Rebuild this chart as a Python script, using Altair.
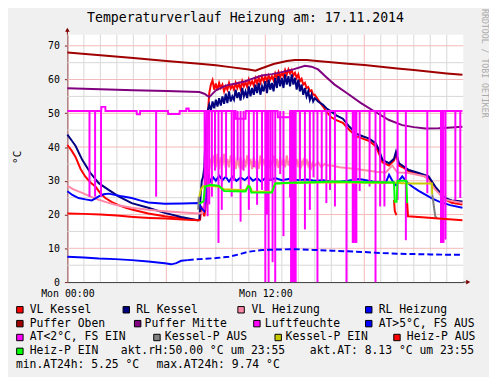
import altair as alt
import pandas as pd

# ---------------- data (hours since Mon 00:00, values in °C / %) ----------------
vl_kessel = [
    (0, 40.6), (0.25, 39.0), (0.5, 37.0), (0.8, 33.5), (1.08, 31.3), (1.4, 29.5), (1.7, 28.3),
    (2.0, 26.3), (2.3, 24.9), (2.7, 23.7), (3.1, 22.8), (3.5, 22.1), (3.9, 21.5), (4.9, 20.3),
    (5.9, 19.5), (6.9, 18.9), (7.9, 18.3), (8.05, 18.6), (8.12, 22.4), (8.2, 21.5), (8.3, 19.5),
    (8.38, 22.0), (8.45, 35.0), (8.52, 50.0),
    (8.6, 56.0), (8.7, 58.5), (8.8, 59.8), (8.9, 57.0), (9.0, 58.8), (9.1, 56.8), (9.2, 59.0),
    (9.3, 57.5), (9.4, 58.5), (9.5, 56.5), (9.6, 58.0), (9.7, 57.0), (9.8, 59.0), (9.9, 57.3),
    (10.0, 58.2), (10.1, 57.0), (10.2, 59.0), (10.3, 57.5), (10.4, 58.8), (10.5, 57.2), (10.6, 59.5),
    (10.7, 58.0), (10.8, 59.2), (10.9, 57.8), (11.0, 60.0), (11.1, 58.5), (11.2, 59.5), (11.3, 58.2),
    (11.4, 60.3), (11.5, 58.8), (11.6, 60.5), (11.7, 59.0), (11.8, 60.8), (11.9, 59.5), (12.0, 61.0),
    (12.1, 59.5), (12.2, 61.2), (12.3, 60.0), (12.4, 61.0), (12.5, 59.8), (12.6, 61.8), (12.7, 60.5),
    (12.8, 62.2), (12.9, 60.8), (13.0, 62.0), (13.1, 61.0), (13.2, 62.8), (13.3, 61.5), (13.4, 63.0),
    (13.5, 61.8), (13.6, 62.8), (13.7, 61.2), (13.8, 62.0), (13.9, 60.5), (14.0, 61.5), (14.1, 59.5),
    (14.2, 60.2), (14.3, 58.5), (14.4, 59.0), (14.5, 57.5), (14.6, 57.8), (14.7, 56.5), (14.8, 56.8),
    (14.9, 55.5), (15.0, 55.5),
    (15.2, 54.0), (15.5, 52.0), (15.7, 50.5), (16.0, 48.8), (16.3, 48.0), (16.7, 47.2), (17.1, 45.0),
    (17.5, 43.2), (17.9, 42.5), (18.3, 41.8), (18.7, 40.2), (18.9, 38.0), (19.1, 35.5), (19.5, 34.5),
    (19.8, 36.0), (19.92, 37.8), (20.1, 34.5), (20.4, 33.8), (20.7, 32.8), (21.3, 32.0), (21.9, 30.8),
    (22.3, 28.0), (22.6, 26.0), (22.9, 24.5), (23.3, 23.5), (23.95, 23.0),
]

rl_kessel = [
    (0, 43.7), (0.25, 42.0), (0.5, 40.3), (0.9, 36.2), (1.4, 32.3), (1.9, 29.3), (2.5, 27.3),
    (3.1, 25.4), (3.9, 23.4), (4.9, 22.0), (5.9, 20.5), (6.9, 19.3), (7.9, 18.3), (8.0, 18.4),
    (8.08, 26.0), (8.15, 30.0), (8.22, 31.0), (8.3, 34.0), (8.35, 40.5), (8.45, 49.0), (8.52, 51.0),
    (8.6, 52.5), (8.7, 50.8), (8.8, 53.5), (8.9, 51.5), (9.0, 54.0), (9.1, 52.0), (9.2, 54.5),
    (9.3, 52.3), (9.4, 55.0), (9.5, 52.8), (9.6, 55.8), (9.7, 53.0), (9.8, 56.5), (9.9, 53.5),
    (10.0, 55.0), (10.1, 54.0), (10.2, 57.0), (10.3, 54.5), (10.4, 56.2), (10.5, 53.8), (10.6, 57.5),
    (10.7, 55.0), (10.8, 56.5), (10.9, 54.5), (11.0, 58.0), (11.1, 55.0), (11.2, 57.5), (11.3, 55.5),
    (11.4, 58.5), (11.5, 56.0), (11.6, 59.0), (11.7, 55.5), (11.8, 58.0), (11.9, 56.5), (12.0, 59.5),
    (12.1, 56.0), (12.2, 60.0), (12.3, 57.0), (12.4, 59.0), (12.5, 56.5), (12.6, 60.5), (12.7, 57.5),
    (12.8, 61.0), (12.9, 58.0), (13.0, 60.5), (13.1, 57.5), (13.2, 61.5), (13.3, 58.5), (13.4, 61.0),
    (13.5, 58.0), (13.6, 61.5), (13.7, 58.5), (13.8, 60.5), (13.9, 57.0), (14.0, 60.0), (14.1, 56.5),
    (14.2, 58.5), (14.3, 55.5), (14.4, 57.5), (14.5, 55.0), (14.6, 56.5), (14.7, 54.0), (14.8, 55.5),
    (14.9, 53.5), (15.0, 54.5),
    (15.2, 53.5), (15.5, 52.5), (15.7, 51.5), (16.0, 50.5), (16.3, 49.4), (16.7, 48.4), (17.1, 46.0),
    (17.5, 44.0), (17.9, 43.2), (18.3, 42.5), (18.7, 41.1), (18.9, 39.0), (19.1, 36.2), (19.5, 35.2),
    (19.8, 36.5), (19.92, 38.6), (20.1, 35.2), (20.4, 34.2), (20.7, 33.2), (21.3, 32.3), (21.9, 31.3),
    (22.3, 28.3), (22.6, 26.5), (22.9, 24.9), (23.3, 24.2), (23.95, 23.9),
]

vl_heizung = [
    (0, 28.5), (0.4, 27.4), (0.9, 26.4), (1.4, 25.3), (1.9, 24.4), (2.4, 23.6), (2.9, 22.9),
    (3.9, 22.0), (4.9, 21.4), (5.9, 21.0), (7.0, 20.6), (8.0, 20.3), (8.2, 20.6), (8.4, 26.0),
    (8.6, 33.5), (8.7, 36.5), (8.8, 35.0), (8.9, 37.5), (9.0, 34.0), (9.1, 38.0), (9.2, 33.5),
    (9.3, 37.0), (9.4, 34.5), (9.5, 38.0), (9.6, 33.8), (9.7, 36.5), (9.8, 34.0), (9.9, 37.5),
    (10.0, 34.5), (10.1, 38.0), (10.2, 33.5), (10.3, 36.0), (10.4, 34.5), (10.5, 37.0), (10.6, 33.5),
    (10.7, 36.5), (10.8, 34.0), (10.9, 37.5), (11.0, 34.5), (11.1, 36.5), (11.2, 33.5), (11.3, 37.0),
    (11.4, 34.5), (11.5, 36.0), (11.6, 33.5), (11.7, 37.5), (11.8, 34.0), (11.9, 36.5), (12.0, 34.5),
    (12.1, 37.0), (12.2, 33.5), (12.3, 36.0), (12.4, 34.5), (12.5, 37.5), (12.6, 34.0), (12.7, 36.5),
    (12.8, 33.8), (12.9, 37.0), (13.0, 34.5), (13.1, 36.5), (13.2, 34.0), (13.3, 37.5), (13.4, 34.5),
    (13.5, 36.0), (13.6, 34.0), (13.7, 37.0), (13.8, 34.5), (13.9, 36.5), (14.0, 34.0), (14.1, 37.0),
    (14.2, 34.5), (14.3, 36.0), (14.4, 34.0), (14.5, 36.5), (14.6, 34.5), (14.7, 36.0), (14.8, 34.0),
    (14.9, 35.5), (15.0, 34.5), (15.2, 35.5), (15.4, 34.0), (15.6, 35.0), (15.8, 34.5), (16.0, 34.5),
    (16.5, 34.0), (17.5, 33.5), (18.7, 32.7), (19.3, 32.5), (19.7, 34.5), (20.0, 32.5), (20.7, 32.3),
    (21.7, 31.3), (22.3, 27.4), (22.9, 24.4), (23.95, 23.4),
]

rl_heizung = [
    (0, 26.9), (0.3, 25.8), (0.68, 24.9), (1.1, 24.5), (1.48, 24.2), (1.7, 24.8), (1.9, 25.4),
    (2.2, 26.0), (2.5, 26.2), (3.2, 25.5), (3.9, 24.9), (4.4, 24.2), (4.9, 23.6), (5.9, 23.2),
    (7.0, 23.3), (8.0, 23.4), (8.1, 22.0), (8.3, 21.0), (8.42, 25.0), (8.55, 31.3), (8.7, 29.8),
    (8.85, 31.0), (9.0, 30.0), (9.2, 31.5), (9.4, 30.2), (9.6, 31.2), (9.8, 29.8), (10.0, 31.2),
    (10.25, 30.0), (10.5, 31.0), (10.75, 30.2), (11.0, 31.3), (11.25, 30.0), (11.5, 30.8),
    (11.75, 29.8), (12.0, 30.8), (12.3, 30.2), (12.6, 30.8), (13.0, 30.2), (13.5, 30.6), (14.0, 30.2),
    (14.5, 30.4), (15.0, 30.0), (15.5, 30.2), (16.0, 29.7), (16.5, 29.7), (17.0, 30.0), (17.7, 30.5),
    (18.5, 29.8), (19.3, 29.4), (19.5, 31.8), (19.7, 30.0), (19.9, 28.8), (20.3, 31.3), (20.6, 29.5),
    (20.9, 28.3), (21.3, 27.0), (21.7, 25.9), (22.1, 24.8), (22.5, 23.9), (23.2, 22.8), (23.95, 22.0),
]

puffer_oben = [
    (0, 68.0), (2, 67.2), (4, 66.4), (6, 65.5), (8, 64.7), (9, 64.2), (10, 63.6), (11, 63.0),
    (11.4, 62.6), (11.7, 63.2), (12.5, 64.6), (13.3, 65.5), (13.8, 65.8), (14.5, 65.8), (15.3, 65.4),
    (16, 65.1), (17, 64.7), (18, 64.3), (19, 63.8), (20, 63.3), (21, 62.8), (22, 62.3), (23, 61.8),
    (23.95, 61.4),
]

puffer_mitte = [
    (0, 57.4), (2, 57.1), (4, 56.8), (6, 56.6), (8, 56.3), (8.3, 55.8), (8.6, 54.8), (9.0, 56.8),
    (9.6, 58.2), (10.2, 58.8), (10.8, 59.5), (11.3, 60.4), (11.8, 61.2), (12.4, 61.6), (13.0, 62.2),
    (13.7, 63.0), (14.4, 64.1), (14.8, 63.8), (15.2, 63.0), (15.7, 60.7), (16.2, 58.5), (17.0, 55.8),
    (17.8, 53.0), (18.7, 50.3), (19.5, 48.0), (20.3, 46.5), (21.0, 45.9), (21.7, 45.5), (22.5, 45.6),
    (23.3, 45.8), (23.95, 46.0),
]

luftfeuchte = [
    (0, 50.7), (2.05, 50.7), (2.06, 51.9), (2.3, 51.9), (2.31, 50.7), (4.2, 50.7), (4.21, 49.7),
    (4.4, 49.7), (4.41, 50.7), (6.1, 50.7), (6.11, 49.8), (6.8, 49.8), (6.81, 50.7), (7.2, 50.7),
    (7.21, 51.4), (7.35, 51.4), (7.36, 50.7), (10.2, 50.7), (10.21, 48.4), (10.8, 48.4),
    (10.81, 50.7), (12.75, 50.7), (12.76, 48.8), (13.5, 48.8), (13.51, 50.7), (23.95, 50.7),
]
# short drops of the humidity reading: (hour, lowest value)
luftfeuchte_drops = [
    (1.34, 25.3), (1.68, 25.3), (2.04, 25.3), (5.38, 25.3),
    (8.32, 21.4), (8.42, 30.0), (8.5, 19.5), (8.6, 23.0), (8.76, 25.3), (8.95, 33.0), (9.16, 11.6),
    (9.36, 21.4), (9.62, 31.0), (9.96, 25.3), (10.1, 30.0), (10.32, 36.0), (10.5, 17.9), (10.68, 33.0),
    (11.0, 21.4), (11.3, 34.0), (11.5, 22.9), (11.8, 27.3), (12.0, 0.0), (12.1, 20.0), (12.2, 0.0),
    (12.32, 30.0), (12.44, 5.9), (12.6, 0.0), (12.9, 32.0), (13.1, 13.6), (13.5, 25.0), (13.56, 0.0),
    (13.62, 0.0), (13.7, 0.0), (13.78, 0.0), (13.84, 0.0), (14.1, 30.0), (14.4, 15.6), (14.7, 21.4),
    (14.92, 31.0), (15.16, 0.0), (15.42, 30.0), (15.7, 23.4),
    (15.92, 27.3), (16.22, 22.4), (16.92, 0.0), (17.3, 11.6), (17.36, 11.6), (17.45, 11.6),
    (17.52, 11.6), (17.72, 27.0), (18.32, 28.3), (18.68, 0.0), (18.96, 22.4), (19.22, 22.4),
    (20.02, 24.3), (20.52, 12.4), (21.82, 26.3), (22.65, 11.6), (22.72, 11.6), (22.8, 11.6),
    (22.92, 12.6), (23.52, 24.3), (23.82, 24.9),
]

aussen_solid = [
    (0, 7.5), (1, 7.3), (1.9, 7.0), (2.9, 6.8), (3.9, 6.5), (4.9, 6.1), (5.9, 5.6), (6.3, 5.25),
    (6.6, 5.6), (6.9, 6.3), (7.3, 6.5),
]
aussen_dashed = [
    (7.3, 6.5), (8.0, 6.8), (9.0, 7.1), (9.8, 7.5), (10.4, 8.2), (11.0, 9.0), (11.8, 9.5),
    (12.8, 9.65), (13.8, 9.74), (15.0, 9.5), (16.0, 9.3), (17.0, 9.1), (18.0, 8.9), (19.0, 8.6),
    (20.0, 8.4), (21.0, 8.3), (22.0, 8.2), (23.0, 8.1), (23.95, 8.13),
]

kessel_p_aus = [
    [(7.93, 21.4), (7.96, 25.3)],
    [(22.12, 26.0), (22.3, 19.5), (22.4, 18.9)],
]
kessel_p_ein = [
    [(8.0, 25.3), (8.1, 27.5), (8.2, 28.3), (8.7, 28.5), (9.2, 28.2), (9.5, 27.5), (10.8, 27.2),
     (10.95, 28.5), (11.1, 28.0), (11.2, 26.8), (12.4, 26.7), (12.6, 29.2), (14.0, 29.4), (16.0, 29.6),
     (18.0, 29.4), (19.9, 29.4), (20.3, 29.3), (21.0, 29.2), (22.1, 29.2), (22.12, 26.0)],
]
heiz_p_aus = [
    [(0, 20.3), (1, 20.2), (2, 20.0), (3, 19.7), (4, 19.3), (5, 19.0), (6, 18.8), (7, 18.5),
     (8.0, 18.3), (8.05, 18.4)],
    [(19.8, 24.3), (19.85, 21.0), (19.95, 19.8)],
    [(20.6, 23.4), (20.65, 19.5), (21.5, 19.2), (22.5, 18.8), (23.95, 18.3)],
]
heiz_p_ein = [
    [(8.0, 23.2), (8.25, 23.9), (8.35, 28.3), (8.7, 28.8), (9.2, 28.5), (9.5, 27.0), (10.8, 26.8),
     (10.95, 28.3), (11.05, 28.3), (11.15, 26.5), (12.4, 26.5), (12.6, 29.2), (13.5, 29.4),
     (15.0, 29.6), (16.0, 29.8), (17.0, 29.7), (18.0, 29.6), (19.0, 29.6), (19.8, 29.5), (19.85, 23.5)],
    [(19.95, 23.5), (20.02, 30.0), (20.55, 30.0), (20.6, 23.4)],
]

legend_labels = [
    ["VL Kessel", "RL Kessel", "VL Heizung", "RL Heizung"],
    ["Puffer Oben", "Puffer Mitte", "Luftfeuchte", "AT>5°C, FS AUS"],
    ["AT<2°C, FS EIN", "Kessel-P AUS", "Kessel-P EIN", "Heiz-P AUS"],
    ["Heiz-P EIN"],
]
legend_colors = [
    ["#ff0000", "#000080", "#ff88a8", "#0000ff"],
    ["#a00000", "#800080", "#ff00ff", "#0000ff"],
    ["#ff00ff", "#808080", "#c8c800", "#ff0000"],
    ["#00ff00"],
]
info_lines = [
    ["akt.rH:50.00 °C um 23:55", "akt.AT: 8.13 °C um 23:55"],
    ["min.AT24h: 5.25 °C", "max.AT24h: 9.74 °C"],
]
title_text = "Temperaturverlauf Heizung am: 17.11.2014"
y_title = "°C"
watermark = "RRDTOOL / TOBI OETIKER"
x_tick_values = [0, 12]
x_tick_labels = ["Mon 00:00", "Mon 12:00"]
y_tick_values = [0, 10, 20, 30, 40, 50, 60, 70]

# ---------------- layout / style (pixels relative to plot area) ----------------
W, H = 400, 250
MONO = "DejaVu Sans Mono"
legend_row_y = [278, 292, 306, 320, 334]
legend_swatch_x = [[-48, 59.5, 175.5, 304.5], [-48, 71, 191.5, 304.5], [-48, 90.5, 213, 333], [-48]]
legend_text_x = [[-38, 69.5, 186, 314.5], [-38, 78, 199.5, 314.5], [-38, 98.5, 220.5, 343], [-38]]
info_x = [[54, 245], [-52, 90]]

label_expr = " : ".join(
    f"datum.value == {v} ? '{lab}'" for v, lab in zip(x_tick_values, x_tick_labels)
) + " : ''"

X = alt.X(
    "t:Q",
    scale=alt.Scale(domain=[0, 24], nice=False, zero=False),
    axis=alt.Axis(values=x_tick_values, labelExpr=label_expr, grid=False, ticks=False,
                  domainColor="#3a3a3a", labelFont=MONO, labelFontSize=10, labelColor="black",
                  labelPadding=7, labelFlush=False, labelOverlap=False, labelAngle=0, title=None),
)
Y = alt.Y(
    "v:Q",
    scale=alt.Scale(domain=[0, 73.3], nice=False, zero=False),
    axis=alt.Axis(values=y_tick_values, grid=False, tickSize=3, tickColor="#7f2020",
                  domainColor="#8b3a3a", labelFont=MONO, labelFontSize=10, labelColor="black",
                  labelPadding=5, title=None),
)


def pairs_df(pairs, seg=0):
    return pd.DataFrame({"t": [p[0] for p in pairs], "v": [p[1] for p in pairs], "seg": seg})


def segs_df(segs):
    return pd.concat([pairs_df(s, i) for i, s in enumerate(segs)], ignore_index=True)


layers = []

# grid
grid_minor_x = [h for h in range(1, 24) if h % 6]
grid_major_x = [6, 12, 18]
grid_minor_y = [5, 15, 25, 35, 45, 55, 65]
grid_major_y = [10, 20, 30, 40, 50, 60, 70]
layers.append(alt.Chart(pd.DataFrame({"t": grid_minor_x})).mark_rule(color="#d8d8d8", strokeWidth=1).encode(x=X))
layers.append(alt.Chart(pd.DataFrame({"v": grid_minor_y})).mark_rule(color="#d8d8d8", strokeWidth=1).encode(y=Y))
layers.append(alt.Chart(pd.DataFrame({"t": grid_major_x})).mark_rule(color="#f3b9b9", strokeWidth=1).encode(x=X))
layers.append(alt.Chart(pd.DataFrame({"v": grid_major_y})).mark_rule(color="#f3b9b9", strokeWidth=1).encode(y=Y))

# data lines (legend order = drawing order)
simple_series = [
    (vl_kessel, "#ff0000"),
    (rl_kessel, "#000080"),
    (vl_heizung, "#ff88a8"),
    (rl_heizung, "#0000ff"),
    (puffer_oben, "#a00000"),
    (puffer_mitte, "#800080"),
]
for pairs, col in simple_series:
    layers.append(alt.Chart(pairs_df(pairs)).mark_line(color=col, strokeWidth=2).encode(x=X, y=Y))

layers.append(alt.Chart(pairs_df(luftfeuchte)).mark_line(color="#ff00ff", strokeWidth=2).encode(x=X, y=Y))
drops = pd.DataFrame({"t": [d[0] for d in luftfeuchte_drops],
                      "v": [50.7] * len(luftfeuchte_drops),
                      "b": [d[1] for d in luftfeuchte_drops]})
layers.append(alt.Chart(drops).mark_rule(color="#ff00ff", strokeWidth=2).encode(x=X, y=Y, y2="b:Q"))

layers.append(alt.Chart(pairs_df(aussen_solid)).mark_line(color="#0000ff", strokeWidth=2).encode(x=X, y=Y))
layers.append(alt.Chart(pairs_df(aussen_dashed)).mark_line(color="#0000ff", strokeWidth=2, strokeDash=[6, 3]).encode(x=X, y=Y))

for segs, col in [(kessel_p_aus, "#808080"), (kessel_p_ein, "#c8c800"),
                  (heiz_p_aus, "#ff0000"), (heiz_p_ein, "#00ff00")]:
    layers.append(alt.Chart(segs_df(segs)).mark_line(color=col, strokeWidth=2).encode(x=X, y=Y, detail="seg:N"))

one = pd.DataFrame({"k": [0]})


def text_layer(txt, x, y, size=11.5, align="left", angle=0, color="black", baseline="middle"):
    return alt.Chart(one).mark_text(font=MONO, fontSize=size, align=align, baseline=baseline,
                                    angle=angle, color=color).encode(
        x=alt.value(x), y=alt.value(y), text=alt.value(txt))


# axis arrows
layers.append(alt.Chart(one).mark_rule(color="#7f0000", strokeWidth=1).encode(
    x=alt.value(0), y=alt.value(-5), y2=alt.value(0)))
layers.append(alt.Chart(one).mark_point(shape="triangle-up", filled=True, size=22, color="#7f0000", opacity=1).encode(
    x=alt.value(0), y=alt.value(-5)))
layers.append(alt.Chart(one).mark_rule(color="#3a3a3a", strokeWidth=1).encode(
    x=alt.value(W), x2=alt.value(W + 5), y=alt.value(H)))
layers.append(alt.Chart(one).mark_point(shape="triangle-right", filled=True, size=22, color="#7f0000", opacity=1).encode(
    x=alt.value(W + 5), y=alt.value(H)))

# titles
layers.append(text_layer(title_text, 180, -17, size=13.3, align="center"))
layers.append(text_layer(y_title, -50, 124, size=11, align="center", angle=270))
layers.append(text_layer(watermark, 421, 29, size=8.3, align="center", angle=90, color="#ababab"))

# legend
for r, row in enumerate(legend_labels):
    for c, lab in enumerate(row):
        layers.append(alt.Chart(one).mark_square(size=42, color=legend_colors[r][c], stroke="black",
                                                 strokeWidth=1, opacity=1).encode(
            x=alt.value(legend_swatch_x[r][c]), y=alt.value(legend_row_y[r])))
        layers.append(text_layer(lab, legend_text_x[r][c], legend_row_y[r]))
for r, row in enumerate(info_lines):
    for c, txt in enumerate(row):
        layers.append(text_layer(txt, info_x[r][c], legend_row_y[3 + r]))

chart = alt.layer(*layers).properties(
    width=W, height=H, background="#f0f0f0",
    padding={"left": 60, "top": 25, "right": 26, "bottom": 94},
    autosize=alt.AutoSizeParams(type="none"),
).configure_view(fill="white", strokeWidth=0)

chart.save("out.html", embed_options={"renderer": "svg", "actions": False})
